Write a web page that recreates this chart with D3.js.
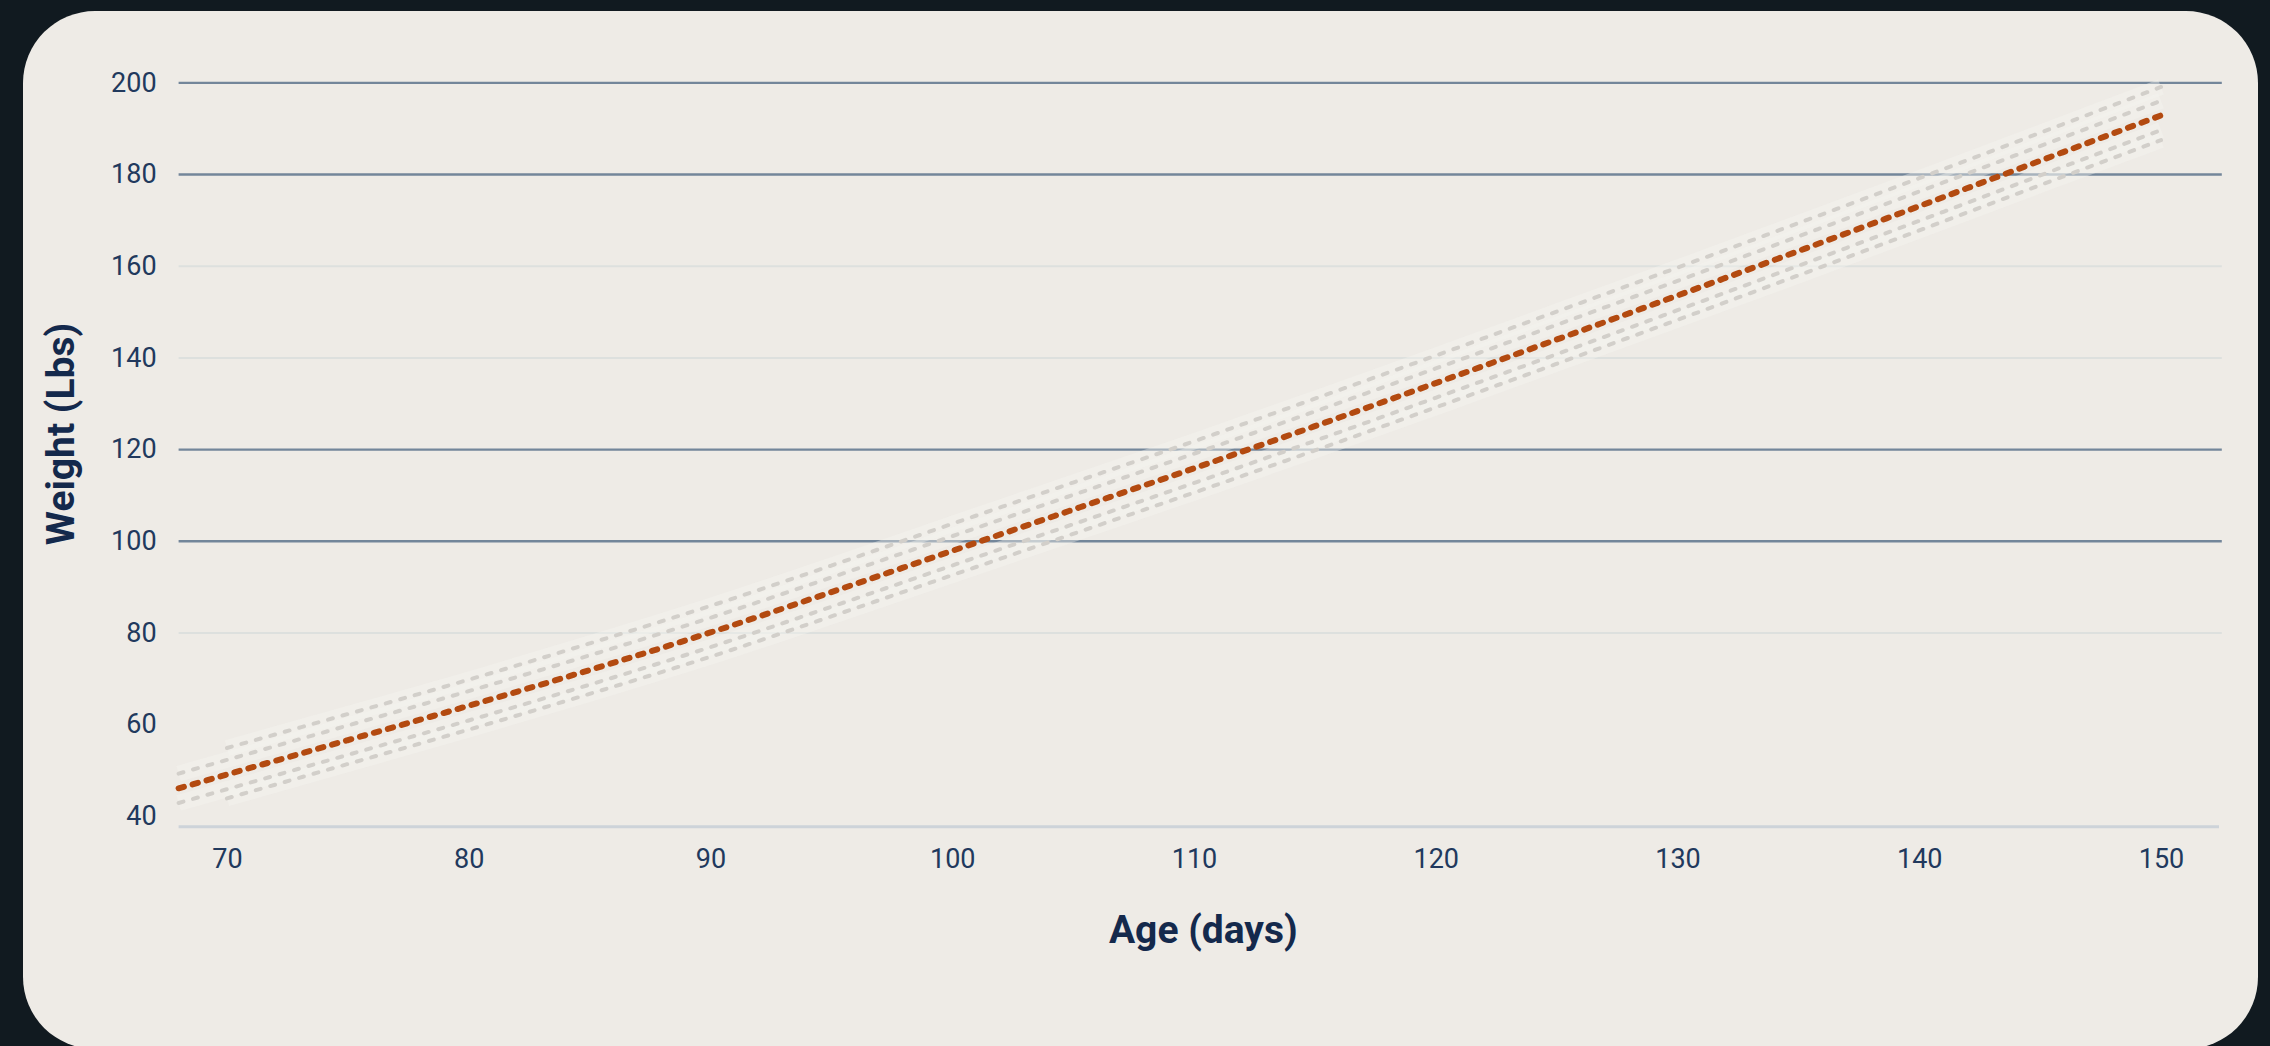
<!DOCTYPE html>
<html>
<head>
<meta charset="utf-8">
<script src="https://cdn.jsdelivr.net/npm/d3@7"></script>
<style>
  html, body { margin: 0; padding: 0; background: #111a20; }
  svg { display: block; }
  text { font-family: Roboto, "Noto Sans", sans-serif; }
</style>
</head>
<body>
<svg id="chart" width="2270" height="1046"></svg>
<script>
// expected weight curve (orange) and the two inner bands
const days = [68, 70, 75, 80, 85, 90, 95, 100, 105, 110, 115, 120, 125, 130, 135, 140, 145, 150];
const weight = [46.0, 49.0, 56.5, 64.0, 71.8, 80.0, 88.8, 97.8, 106.8, 115.8, 125.0, 134.4, 143.9, 153.5, 163.2, 173.0, 182.9, 192.8];
const innerUpper = [49.2, 52.2, 59.7, 67.2, 75.0, 83.2, 92.0, 101.0, 110.0, 119.0, 128.2, 137.6, 147.1, 156.7, 166.4, 176.2, 186.1, 196.0];
const innerLower = [42.8, 45.8, 53.3, 60.8, 68.6, 76.8, 85.6, 94.6, 103.6, 112.6, 121.8, 131.2, 140.7, 150.3, 160.0, 169.8, 179.7, 189.6];

// outer bands start a little later
const daysOuter = [70, 75, 80, 85, 90, 95, 100, 105, 110, 115, 120, 125, 130, 135, 140, 145, 150];
const outerUpper = [54.8, 62.2, 69.7, 77.6, 85.8, 94.6, 103.7, 112.7, 121.7, 131.0, 140.4, 150.0, 159.6, 169.3, 179.1, 189.0, 199.0];
const outerLower = [43.8, 51.3, 58.8, 66.6, 74.7, 83.5, 92.5, 101.5, 110.5, 119.7, 129.1, 138.6, 148.2, 157.9, 167.7, 177.6, 187.4];

const xTicks = [70, 80, 90, 100, 110, 120, 130, 140, 150];
const yTicks = [40, 60, 80, 100, 120, 140, 160, 180, 200];
const xTitle = "Age (days)";
const yTitle = "Weight (Lbs)";

const svg = d3.select("#chart");
const plotL = 178.6, plotR = 2220, plotT = 82.4, plotB = 826.8;

// card
svg.append("rect")
  .attr("x", 23).attr("y", 11)
  .attr("width", 2235).attr("height", 1038)
  .attr("rx", 72).attr("ry", 72)
  .attr("fill", "#eeebe6");

const x = d3.scaleLinear().domain([68, 152.44]).range([plotL, plotR]);
const y = d3.scaleLinear().domain([37.6, 200]).range([plotB, plotT]);

// gridlines + y labels
const strong = [100, 120, 180, 200];
const faint = [80, 140, 160];
const gy = svg.append("g")
  .attr("transform", `translate(${plotL},0)`)
  .call(d3.axisLeft(y).tickValues(yTicks).tickSize(-(plotR + 1.8 - plotL)).tickPadding(22).tickFormat(d3.format("d")));
gy.select(".domain").remove();
gy.selectAll(".tick line")
  .attr("stroke", d => strong.includes(d) ? "#73869a" : "#dde0de")
  .attr("stroke-width", d => strong.includes(d) ? 2.4 : 2)
  .attr("opacity", d => (strong.includes(d) || faint.includes(d)) ? 1 : 0);
gy.selectAll(".tick text")
  .attr("fill", "#21395d")
  .attr("font-size", 27);

// bottom axis line + x labels
svg.append("line")
  .attr("x1", plotL).attr("x2", plotR - 1)
  .attr("y1", plotB).attr("y2", plotB)
  .attr("stroke", "#cdd3d9").attr("stroke-width", 3);
const gx = svg.append("g")
  .attr("transform", `translate(0,${plotB})`)
  .call(d3.axisBottom(x).tickValues(xTicks).tickSize(0).tickPadding(22).tickFormat(d3.format("d")));
gx.select(".domain").remove();
gx.selectAll(".tick text")
  .attr("fill", "#21395d")
  .attr("font-size", 27);

// lines
const line = d3.line()
  .x(d => x(d[0]))
  .y(d => y(d[1]))
  .curve(d3.curveMonotoneX);

const bands = [
  d3.zip(daysOuter, outerUpper),
  d3.zip(days, innerUpper),
  d3.zip(days, innerLower),
  d3.zip(daysOuter, outerLower)
];

// soft glow under the grey bands
svg.append("g").selectAll("path.halo")
  .data(bands)
  .join("path")
  .attr("class", "halo")
  .attr("d", line)
  .attr("fill", "none")
  .attr("stroke", "#f6f4f1")
  .attr("stroke-opacity", 0.4)
  .attr("stroke-width", 16);

svg.append("g").selectAll("path.band")
  .data(bands)
  .join("path")
  .attr("class", "band")
  .attr("d", line)
  .attr("fill", "none")
  .attr("stroke", "#d2cfca")
  .attr("stroke-width", 4)
  .attr("stroke-linecap", "round")
  .attr("stroke-dasharray", "5 10");

svg.append("path")
  .datum(d3.zip(days, weight))
  .attr("d", line)
  .attr("fill", "none")
  .attr("stroke", "#b34a10")
  .attr("stroke-width", 6)
  .attr("stroke-linecap", "round")
  .attr("stroke-dasharray", "5.5 9");

// axis titles
svg.append("text")
  .attr("x", (plotL + plotR) / 2 + 4)
  .attr("y", 943)
  .attr("text-anchor", "middle")
  .attr("font-size", 39)
  .attr("font-weight", "bold")
  .attr("fill", "#14294c")
  .text(xTitle);

svg.append("text")
  .attr("transform", "translate(74,434) rotate(-90)")
  .attr("text-anchor", "middle")
  .attr("font-size", 39)
  .attr("font-weight", "bold")
  .attr("fill", "#14294c")
  .text(yTitle);
</script>
</body>
</html>
